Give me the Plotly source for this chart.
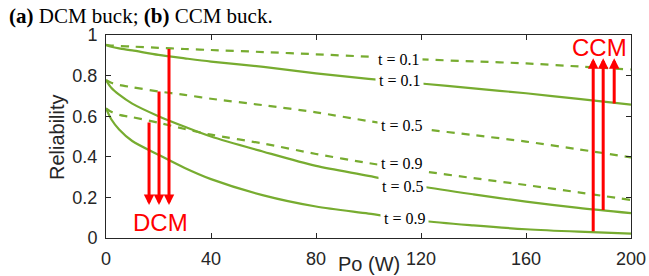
import plotly.graph_objects as go

# ---- data ----
po = [0, 2, 5, 10, 20, 30, 40, 60, 80, 100, 120, 140, 160, 180, 200]

dcm_t01 = [0.950, 0.942, 0.934, 0.924, 0.902, 0.885, 0.869, 0.843, 0.811, 0.784, 0.761, 0.737, 0.713, 0.685, 0.657]
dcm_t05 = [0.778, 0.740, 0.706, 0.662, 0.600, 0.548, 0.500, 0.425, 0.355, 0.306, 0.255, 0.215, 0.179, 0.148, 0.122]
dcm_t09 = [0.639, 0.585, 0.535, 0.478, 0.410, 0.345, 0.290, 0.210, 0.155, 0.120, 0.085, 0.062, 0.043, 0.031, 0.022]

ccm_t01 = [0.951, 0.948, 0.946, 0.943, 0.937, 0.931, 0.926, 0.916, 0.905, 0.893, 0.880, 0.870, 0.860, 0.845, 0.830]
ccm_t05 = [0.778, 0.765, 0.754, 0.743, 0.722, 0.705, 0.686, 0.654, 0.619, 0.576, 0.538, 0.507, 0.475, 0.437, 0.397]
ccm_t09 = [0.639, 0.622, 0.607, 0.595, 0.568, 0.537, 0.509, 0.465, 0.414, 0.369, 0.330, 0.295, 0.261, 0.225, 0.187]

curve_labels = ["t = 0.1", "t = 0.5", "t = 0.9"]

# arrows (DCM: downward, CCM: upward)
dcm_arrow_po = [16.4, 20.2, 24.0]
dcm_arrow_from = [0.576, 0.729, 0.939]
dcm_arrow_to = [0.163, 0.163, 0.163]

ccm_arrow_po = [185.6, 189.4, 193.6]
ccm_arrow_from = [0.026, 0.130, 0.655]
ccm_arrow_to = [0.885, 0.885, 0.885]

x_ticks = [0, 40, 80, 120, 160, 200]
y_ticks = [0, 0.2, 0.4, 0.6, 0.8, 1]

GREEN = "#77AC30"
AXC = "#262626"
SANS = "Liberation Sans, Arial, sans-serif"
SERIF = "Liberation Serif, Times New Roman, serif"

fig = go.Figure()
for ys in (dcm_t01, dcm_t05, dcm_t09):
    fig.add_trace(go.Scatter(x=po, y=ys, mode="lines",
                             line=dict(color=GREEN, width=2.2, shape="spline", smoothing=0.8),
                             showlegend=False, hoverinfo="skip"))
for ys in (ccm_t01, ccm_t05, ccm_t09):
    fig.add_trace(go.Scatter(x=po, y=ys, mode="lines",
                             line=dict(color=GREEN, width=2.2, dash="8px,7px", shape="spline", smoothing=0.8),
                             showlegend=False, hoverinfo="skip"))

annotations = []
# curve labels (white background cuts the lines)
label_pos = [
    (111.6, 0.880, curve_labels[0]),
    (111.7, 0.775, curve_labels[0]),
    (112.4, 0.552, curve_labels[1]),
    (112.6, 0.368, curve_labels[2]),
    (113.0, 0.256, curve_labels[1]),
    (113.9, 0.097, curve_labels[2]),
]
for x, y, t in label_pos:
    annotations.append(dict(x=x, y=y, xref="x", yref="y", text=t, showarrow=False,
                            font=dict(family=SERIF, size=16, color="black"),
                            bgcolor="white", borderpad=3, xanchor="center", yanchor="middle"))

for p, a, b in zip(dcm_arrow_po, dcm_arrow_from, dcm_arrow_to):
    annotations.append(dict(x=p, y=b, ax=p, ay=a, xref="x", yref="y", axref="x", ayref="y",
                            text="", showarrow=True, arrowhead=2, arrowsize=0.7, arrowwidth=3,
                            arrowcolor="#FF0000", standoff=0))
for p, a, b in zip(ccm_arrow_po, ccm_arrow_from, ccm_arrow_to):
    annotations.append(dict(x=p, y=b, ax=p, ay=a, xref="x", yref="y", axref="x", ayref="y",
                            text="", showarrow=True, arrowhead=2, arrowsize=0.7, arrowwidth=3,
                            arrowcolor="#FF0000", standoff=0))

annotations.append(dict(x=20.6, y=0.075, xref="x", yref="y", text="DCM", showarrow=False,
                        font=dict(family=SANS, size=24, color="#FF0000"), xanchor="center", yanchor="middle"))
annotations.append(dict(x=188.0, y=0.940, xref="x", yref="y", text="CCM", showarrow=False,
                        font=dict(family=SANS, size=24, color="#FF0000"), xanchor="center", yanchor="middle"))

# axis titles
annotations.append(dict(x=0.5, y=-0.128, xref="paper", yref="paper", text="Po (W)", showarrow=False,
                        font=dict(family=SANS, size=20, color=AXC), xanchor="center", yanchor="middle"))
annotations.append(dict(x=-0.0933, y=0.4975, xref="paper", yref="paper", text="Reliability", showarrow=False,
                        textangle=-90, font=dict(family=SANS, size=20, color=AXC),
                        xanchor="center", yanchor="middle"))
# figure caption
annotations.append(dict(x=-0.1886, y=1.093, xref="paper", yref="paper",
                        text="<b>(a)</b> DCM buck; <b>(b)</b> CCM buck.", showarrow=False,
                        font=dict(family=SERIF, size=21, color="black"), xanchor="left", yanchor="middle"))

axis_common = dict(showline=True, linecolor=AXC, linewidth=1, mirror="ticks", ticks="inside",
                   ticklen=5, tickwidth=1, tickcolor=AXC, showgrid=False, zeroline=False,
                   tickfont=dict(family=SANS, size=18, color=AXC))

fig.update_layout(
    width=649, height=276,
    margin=dict(l=106, r=18, t=35, b=38),
    paper_bgcolor="white", plot_bgcolor="white",
    xaxis=dict(range=[0, 200], tickvals=x_ticks, ticktext=[str(v) for v in x_ticks],
               ticklabelstandoff=4, automargin=False, **axis_common),
    yaxis=dict(range=[0, 1], tickvals=y_ticks, ticktext=["0", "0.2", "0.4", "0.6", "0.8", "1"],
               ticklabelstandoff=4, automargin=False, **axis_common),
    annotations=annotations,
    showlegend=False,
)

fig.write_html("out.html", config={"displayModeBar": False},
               post_script="document.body.style.margin='0';document.body.style.overflow='hidden';")
